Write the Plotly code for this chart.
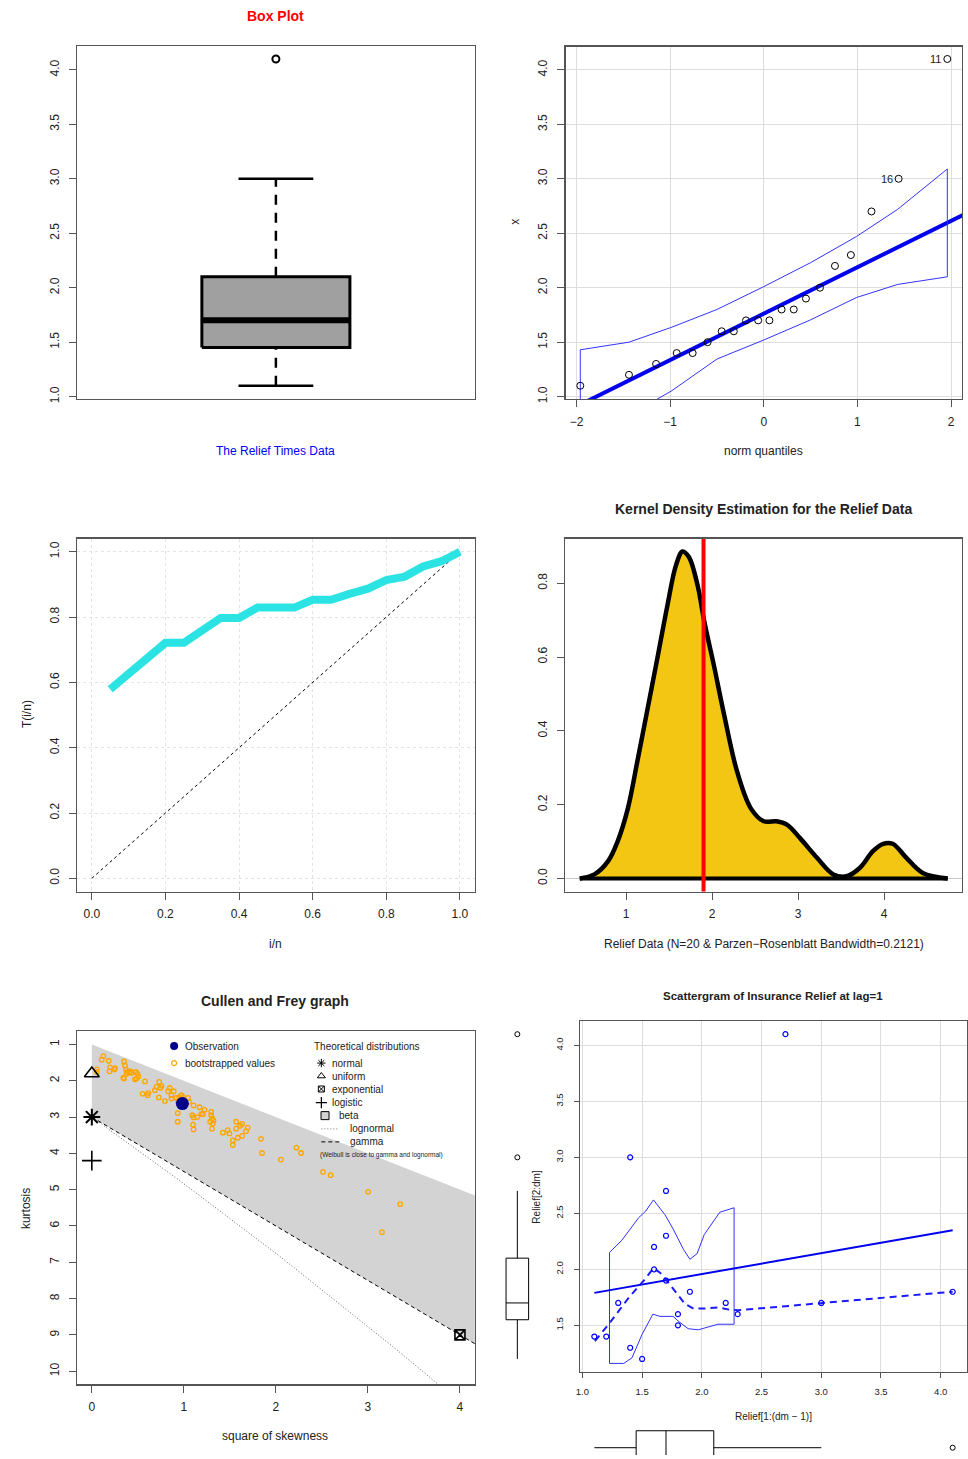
import plotly.graph_objects as go

W, H = 968, 1459
FONT = "Liberation Sans, Arial, sans-serif"
LINE = "#555555"
TXT = "#222222"

# ---------------- data ----------------
relief = [1.1, 1.4, 1.3, 1.7, 1.9, 1.8, 1.6, 2.2, 1.7, 2.7, 4.1, 1.8, 1.5, 1.2, 1.4, 3.0, 1.7, 2.3, 1.6, 2.0]

# box plot: lower whisker, lower hinge, median, upper hinge, upper whisker
box_stats = [1.1, 1.45, 1.7, 2.1, 3.0]
box_outliers = [4.1]

# normal QQ plot
qq_theo = [-1.96, -1.44, -1.15, -0.93, -0.76, -0.60, -0.45, -0.32, -0.19, -0.06,
           0.06, 0.19, 0.32, 0.45, 0.60, 0.76, 0.93, 1.15, 1.44, 1.96]
qq_sample = [1.1, 1.2, 1.3, 1.4, 1.4, 1.5, 1.6, 1.6, 1.7, 1.7,
             1.7, 1.8, 1.8, 1.9, 2.0, 2.2, 2.3, 2.7, 3.0, 4.1]
qq_label_text = ["11", "16"]
qq_label_x = [1.96, 1.44]
qq_label_y = [4.1, 3.0]
qq_intercept = 1.762
qq_slope = 0.426
qq_env_x = [-1.96, -1.44, -0.99, -0.50, 0.0, 0.50, 0.99, 1.43, 1.96]
qq_env_upper = [1.43, 1.50, 1.635, 1.80, 2.01, 2.23, 2.47, 2.72, 3.09]
qq_env_lower = [0.55, 0.83, 1.05, 1.345, 1.52, 1.705, 1.91, 2.03, 2.10]

# TTT plot
ttt_x = [0.05, 0.10, 0.15, 0.20, 0.25, 0.30, 0.35, 0.40, 0.45, 0.50,
         0.55, 0.60, 0.65, 0.70, 0.75, 0.80, 0.85, 0.90, 0.95, 1.00]
ttt_y = [0.579, 0.629, 0.676, 0.721, 0.721, 0.761, 0.797, 0.797, 0.829, 0.829,
         0.829, 0.853, 0.853, 0.871, 0.887, 0.913, 0.924, 0.955, 0.971, 1.000]
ttt_ref = [0.0, 1.0]

# kernel density
kde_x = [0.46, 0.63, 0.79, 0.90, 1.02, 1.13, 1.25, 1.37, 1.48, 1.58, 1.655, 1.73, 1.83,
         1.91, 2.02, 2.14, 2.29, 2.45, 2.60, 2.75, 2.87, 3.02, 3.22, 3.41, 3.565, 3.72,
         3.87, 3.99, 4.10, 4.26, 4.45, 4.74]
kde_y = [0.0, 0.011, 0.047, 0.10, 0.19, 0.317, 0.461, 0.605, 0.74, 0.849, 0.886, 0.871, 0.795,
         0.695, 0.578, 0.443, 0.29, 0.19, 0.155, 0.155, 0.146, 0.11, 0.056, 0.011, 0.006, 0.029,
         0.074, 0.094, 0.094, 0.056, 0.015, 0.0]
kde_mean = 1.9

# Cullen and Frey graph
obs_skew2 = [0.984]
obs_kurt = [2.63]
boot_skew2 = [0.054, 0.054, 0.108, 0.126, 0.184, 0.198, 0.191, 0.245, 0.252, 0.35, 0.36, 0.371,
              0.386, 0.407, 0.378, 0.432, 0.422, 0.342, 0.35, 0.479, 0.497, 0.505, 0.486, 0.468,
              0.577, 0.551, 0.605, 0.613, 0.685, 0.703, 0.732, 0.757, 0.746, 0.728, 0.793, 0.829,
              0.847, 0.865, 0.865, 0.89, 0.919, 0.937, 0.948, 0.973, 0.99, 0.933, 0.933, 1.009,
              1.045, 1.056, 1.106, 1.092, 1.106, 1.146, 1.171, 1.189, 1.207, 1.225, 1.099, 1.106,
              1.297, 1.297, 1.308, 1.286, 1.315, 1.323, 1.305, 1.423, 1.477, 1.495, 1.532, 1.532,
              1.568, 1.568, 1.586, 1.611, 1.632, 1.632, 1.676, 1.694, 1.838, 1.849, 2.054, 2.223,
              2.274, 2.512, 2.595, 3.002, 3.153, 3.351]
boot_kurt = [1.687, 1.76, 1.42, 1.32, 1.45, 1.63, 1.74, 1.69, 1.65, 1.47, 1.58, 1.69,
             1.76, 1.78, 1.81, 1.78, 1.74, 1.92, 1.94, 1.76, 1.81, 1.88, 1.94, 1.96,
             2.02, 2.36, 2.40, 2.34, 2.26, 2.17, 2.03, 2.14, 2.20, 2.46, 2.56, 2.29,
             2.20, 2.40, 2.49, 2.29, 2.47, 2.57, 2.45, 2.40, 2.45, 2.89, 3.13, 2.54,
             2.47, 2.58, 2.68, 2.95, 3.01, 3.00, 2.73, 2.92, 2.92, 2.80, 3.21, 3.34,
             2.86, 2.95, 3.04, 3.13, 3.18, 3.09, 3.32, 3.43, 3.36, 3.45, 3.64, 3.77,
             3.13, 3.32, 3.57, 3.24, 3.19, 3.52, 3.39, 3.29, 3.60, 3.99, 4.17, 3.84,
             3.99, 4.51, 4.60, 5.06, 6.17, 5.40]
cf_lim_x = [0.0, 4.3]
cf_beta_upper = [1.0, 5.3]
cf_gamma = [3.0, 9.45]
cf_lnorm_x = [0.0, 0.96, 2.05, 3.27, 3.66, 3.85]
cf_lnorm_y = [3.0, 4.76, 6.85, 9.32, 10.14, 10.55]
dist_names = ["normal", "uniform", "exponential", "logistic"]
dist_skew2 = [0.0, 0.0, 4.0, 0.0]
dist_kurt = [3.0, 1.8, 9.0, 4.2]

# lag-1 scattergram
lag_x = relief[:-1]
lag_y = relief[1:]
reg_x = [1.1, 4.1]
reg_y = [1.79, 2.35]
loess_x = [1.105, 1.22, 1.39, 1.51, 1.595, 1.65, 1.71, 1.79, 1.86, 1.93, 2.02, 2.135, 2.23, 2.31, 2.69, 2.99, 4.1]
loess_y = [1.36, 1.51, 1.75, 1.895, 2.01, 1.97, 1.895, 1.78, 1.69, 1.65, 1.65, 1.66, 1.64, 1.635, 1.67, 1.70, 1.80]
band_ux = [1.227, 1.33, 1.415, 1.47, 1.53, 1.595, 1.69, 1.76, 1.845, 1.90, 1.96, 2.02, 2.15, 2.27]
band_upper = [2.15, 2.26, 2.38, 2.46, 2.52, 2.62, 2.49, 2.36, 2.18, 2.09, 2.14, 2.31, 2.51, 2.55]
band_lx = [1.227, 1.346, 1.415, 1.50, 1.59, 1.65, 1.76, 1.80, 1.885, 1.97, 2.135, 2.27]
band_lower = [1.16, 1.16, 1.21, 1.42, 1.60, 1.58, 1.58, 1.54, 1.47, 1.46, 1.51, 1.51]

# ---------------- helpers ----------------
def xdom(l, r):
    return [l / W, min(r / W, 1.0)]


def ydom(t, b):
    return [max(1 - b / H, 0.0), 1 - t / H]


def axis(domain, rng, anchor, tickvals=None, ticktext=None, size=12, grid=None,
         griddash="solid", y=False, standoff=None):
    d = dict(domain=domain, range=rng, anchor=anchor, showline=True, mirror=True,
             linecolor=LINE, linewidth=1.3, ticks="outside", ticklen=7, tickwidth=1,
             tickcolor=LINE, zeroline=False, fixedrange=True,
             tickfont=dict(family=FONT, size=size, color=TXT),
             showgrid=grid is not None, gridcolor=grid or "#ffffff", griddash=griddash,
             gridwidth=1)
    if tickvals is not None:
        d.update(tickmode="array", tickvals=tickvals)
        if ticktext is not None:
            d["ticktext"] = ticktext
    else:
        d.update(showticklabels=False, ticks="")
    if y:
        d["tickangle"] = -90
    d["ticklabelstandoff"] = standoff if standoff is not None else (5 if y else 4)
    return d


def hidden(domain, rng, anchor):
    return dict(domain=domain, range=rng, anchor=anchor, visible=False, fixedrange=True)


annotations = []


def txt(px, py, s, size=12, color=TXT, bold=False, angle=0, xanchor="center"):
    annotations.append(dict(
        x=px / W, y=1 - py / H, xref="paper", yref="paper", text=("<b>%s</b>" % s) if bold else s,
        showarrow=False, textangle=angle, xanchor=xanchor, yanchor="middle",
        font=dict(family=FONT, size=size, color=color)))


fig = go.Figure()


def add(tr, n):
    tr.update(xaxis="x%d" % n if n > 1 else "x", yaxis="y%d" % n if n > 1 else "y",
              showlegend=False, hoverinfo="skip")
    fig.add_trace(tr)


# ---------------- panel 1: box plot ----------------
lo, q1, med, q3, hi = box_stats
bpos, bhw, chw = 1.0, 0.186, 0.094
add(go.Scatter(x=[bpos - bhw, bpos + bhw, bpos + bhw, bpos - bhw, bpos - bhw],
               y=[q1, q1, q3, q3, q1], mode="lines", fill="toself", fillcolor="#a0a0a0",
               line=dict(color="black", width=3)), 1)
add(go.Scatter(x=[bpos - bhw, bpos + bhw], y=[med, med], mode="lines",
               line=dict(color="black", width=6)), 1)
for a, b in ((q3, hi), (lo, q1)):
    add(go.Scatter(x=[bpos, bpos], y=[a, b], mode="lines",
                   line=dict(color="black", width=2.5, dash="10px,8px")), 1)
for v in (lo, hi):
    add(go.Scatter(x=[bpos - chw, bpos + chw], y=[v, v], mode="lines",
                   line=dict(color="black", width=2.5)), 1)
add(go.Scatter(x=[bpos] * len(box_outliers), y=box_outliers, mode="markers",
               marker=dict(symbol="circle-open", size=7, color="black", line=dict(width=2))), 1)

# ---------------- panel 2: QQ plot ----------------
add(go.Scatter(x=[-2.3, 2.3], y=[qq_intercept - 2.3 * qq_slope, qq_intercept + 2.3 * qq_slope],
               mode="lines", line=dict(color="#0000ee", width=4)), 2)
env_px = qq_env_x + qq_env_x[::-1] + [qq_env_x[0]]
env_py = qq_env_upper + qq_env_lower[::-1] + [qq_env_upper[0]]
add(go.Scatter(x=env_px, y=env_py, mode="lines", line=dict(color="#3333ff", width=1)), 2)
add(go.Scatter(x=qq_theo, y=qq_sample, mode="markers",
               marker=dict(symbol="circle-open", size=7, color="black", line=dict(width=1))), 2)

# ---------------- panel 3: TTT ----------------
add(go.Scatter(x=ttt_ref, y=ttt_ref, mode="lines", line=dict(color="black", width=1, dash="dot")), 3)
add(go.Scatter(x=ttt_x, y=ttt_y, mode="lines", line=dict(color="#2ce3e3", width=8)), 3)

# ---------------- panel 4: KDE ----------------
add(go.Scatter(x=[0.0, 5.2], y=[0, 0], mode="lines", line=dict(color="#c8c8c8", width=1)), 4)
add(go.Scatter(x=kde_x, y=kde_y, mode="lines", fill="tozeroy", fillcolor="#f3c614",
               line=dict(color="black", width=4.5, shape="spline", smoothing=1.0)), 4)
add(go.Scatter(x=[kde_x[0], kde_x[-1]], y=[0, 0], mode="lines",
               line=dict(color="black", width=4)), 4)
add(go.Scatter(x=[kde_mean, kde_mean], y=[-0.1, 1.0], mode="lines",
               line=dict(color="#ff0000", width=4)), 4)

# ---------------- panel 5: Cullen and Frey ----------------
add(go.Scatter(x=cf_lim_x + cf_lim_x[::-1], y=cf_beta_upper + cf_gamma[::-1], mode="lines",
               fill="toself", fillcolor="#d3d3d3", line=dict(width=0, color="#d3d3d3")), 5)
add(go.Scatter(x=cf_lnorm_x, y=cf_lnorm_y, mode="lines",
               line=dict(color="#666666", width=1, dash="1px,2px")), 5)
add(go.Scatter(x=cf_lim_x, y=cf_gamma, mode="lines",
               line=dict(color="black", width=1, dash="4px,3px")), 5)
add(go.Scatter(x=boot_skew2, y=boot_kurt, mode="markers",
               marker=dict(symbol="circle-open", size=4.5, color="#ffa500", line=dict(width=1.3))), 5)
add(go.Scatter(x=obs_skew2, y=obs_kurt, mode="markers",
               marker=dict(symbol="circle", size=13, color="#00008b")), 5)
dist_sym = {"normal": ("asterisk-open", 14, 2), "uniform": ("triangle-up-open", 13, 1.6),
            "exponential": ("square-x-open", 10, 1.6), "logistic": ("cross-thin-open", 14, 1.6)}
for nme, sx, ky in zip(dist_names, dist_skew2, dist_kurt):
    s, sz, lw = dist_sym[nme]
    add(go.Scatter(x=[sx], y=[ky], mode="markers",
                   marker=dict(symbol=s, size=sz, color="black", line=dict(width=lw, color="black"))), 5)

# ---------------- panel 6: lag scattergram ----------------
add(go.Scatter(x=band_ux + band_lx[::-1] + [band_ux[0]],
               y=band_upper + band_lower[::-1] + [band_upper[0]], mode="lines",
               line=dict(color="#3030ff", width=1)), 6)
add(go.Scatter(x=reg_x, y=reg_y, mode="lines", line=dict(color="#0000ee", width=2)), 6)
add(go.Scatter(x=loess_x, y=loess_y, mode="lines",
               line=dict(color="#1a1aff", width=2, dash="7px,5px")), 6)
add(go.Scatter(x=lag_x, y=lag_y, mode="markers",
               marker=dict(symbol="circle-open", size=5, color="#0000ff", line=dict(width=1.2))), 6)

# marginal boxplots
add(go.Box(y=lag_y, x0=0.5, width=0.54, boxpoints="outliers", quartilemethod="inclusive",
           whiskerwidth=0, fillcolor="white", line=dict(color="black", width=1),
           marker=dict(symbol="circle-open", size=5, color="black"), pointpos=0, jitter=0), 7)
add(go.Box(x=relief, y0=0.215, width=1.0, orientation="h", boxpoints="outliers",
           quartilemethod="inclusive", whiskerwidth=0, fillcolor="white",
           line=dict(color="black", width=1),
           marker=dict(symbol="circle-open", size=5, color="black"), pointpos=0, jitter=0), 8)

# ---------------- Cullen-Frey legend (pixel overlay axis) ----------------
leg = [
    (171, 1049, "circle", 8, "#00008b", 0),
    (171, 1066, "circle-open", 5, "#ffa500", 1.2),
    (319, 1066, "asterisk-open", 7, "black", 1),
    (319, 1079, "triangle-up-open", 7, "black", 1),
    (319, 1092, "square-x-open", 6, "black", 1),
    (319, 1105.7, "cross-thin-open", 8, "black", 1.2),
]
for lx, ly, s, sz, c, lw in leg:
    add(go.Scatter(x=[lx], y=[ly], mode="markers",
                   marker=dict(symbol=s, size=sz, color=c, line=dict(width=lw, color=c))), 9)
add(go.Scatter(x=[322.7], y=[1118.7], mode="markers",
               marker=dict(symbol="square", size=8, color="#d3d3d3", line=dict(width=1, color="black"))), 9)
add(go.Scatter(x=[319, 337], y=[1132, 1132], mode="lines",
               line=dict(color="#777777", width=1, dash="1px,2px")), 9)
add(go.Scatter(x=[319, 337], y=[1145, 1145], mode="lines",
               line=dict(color="black", width=1, dash="4px,3px")), 9)

# ---------------- axes ----------------
t05 = [1.0, 1.5, 2.0, 2.5, 3.0, 3.5, 4.0]
t05s = ["1.0", "1.5", "2.0", "2.5", "3.0", "3.5", "4.0"]
t02 = [0, 0.2, 0.4, 0.6, 0.8, 1.0]
t02s = ["0.0", "0.2", "0.4", "0.6", "0.8", "1.0"]
GRID = "#dedede"

layout = dict(
    width=W, height=H, margin=dict(l=0, r=0, t=0, b=0), autosize=False,
    paper_bgcolor="white", plot_bgcolor="rgba(0,0,0,0)", showlegend=False,
    xaxis=axis(xdom(73.3, 473.3), [0.5, 1.5], "y"),
    yaxis=axis(ydom(46, 400), [0.979, 4.22], "x", t05, t05s, y=True),
    xaxis2=axis(xdom(564.5, 963), [-2.117, 2.117], "y2", [-2, -1, 0, 1, 2], grid=GRID),
    yaxis2=axis(ydom(46.7, 400), [0.979, 4.214], "x2", t05, t05s, y=True, grid=GRID),
    xaxis3=axis(xdom(73.3, 473.3), [-0.0405, 1.0405], "y3", t02, t02s, grid="#e4e4e4", griddash="dot"),
    yaxis3=axis(ydom(540, 894), [-0.0405, 1.0405], "x3", t02, t02s, y=True, grid="#e4e4e4", griddash="dot"),
    xaxis4=axis(xdom(564.3, 963), [0.293, 4.907], "y4", [1, 2, 3, 4]),
    yaxis4=axis(ydom(540, 894), [-0.0354, 0.921], "x4", [0, 0.2, 0.4, 0.6, 0.8],
                ["0.0", "0.2", "0.4", "0.6", "0.8"], y=True),
    xaxis5=axis(xdom(73.3, 473.3), [-0.162, 4.162], "y5", [0, 1, 2, 3, 4]),
    yaxis5=axis(ydom(1034.3, 1388.3), [10.365, 0.643], "x5", list(range(1, 11)), y=True),
    xaxis6=axis(xdom(579, 968), [0.98, 4.22], "y6", t05, t05s, size=9.5, grid=GRID, standoff=5),
    yaxis6=axis(ydom(1024, 1375.7), [1.084, 4.216], "x6", t05[1:], t05s[1:], size=9.5, y=True,
                grid=GRID, standoff=7),
    xaxis7=hidden(xdom(495, 537), [0, 1], "y7"),
    yaxis7=hidden(ydom(1024, 1375.7), [1.084, 4.216], "x7"),
    xaxis8=hidden(xdom(579, 968), [0.98, 4.22], "y8"),
    yaxis8=hidden(ydom(1425, 1459), [0, 1], "x8"),
    xaxis9=hidden([0, 1], [0, W], "y9"),
    yaxis9=hidden([0, 1], [H, 0], "x9"),
)
for k in ("xaxis6", "yaxis6"):
    layout[k]["ticklen"] = 5

# QQ point labels (data-anchored)
for lab, lx, ly in zip(qq_label_text, qq_label_x, qq_label_y):
    annotations.append(dict(x=lx, y=ly, xref="x2", yref="y2", text=lab, showarrow=False,
                            xanchor="right", yanchor="middle", xshift=-4,
                            font=dict(family=FONT, size=11, color=TXT)))

# ---------------- text ----------------
txt(273, 16, "Box Plot", size=14, color="#ff0000", bold=True)
txt(273, 452, "The Relief Times Data", size=12, color="#0000ff")
txt(763.5, 452, "norm quantiles", size=12)
txt(514, 222, "x", size=12, angle=-90)
txt(273, 946.5, "i/n", size=12)
txt(22.7, 716.5, "T(i/n)", size=12, angle=-90)
txt(763.5, 510.5, "Kernel Density Estimation for the Relief Data", size=14, bold=True)
txt(763.5, 946.5, "Relief Data (N=20 &amp; Parzen\u2212Rosenblatt Bandwidth=0.2121)", size=12)
txt(272.7, 1004, "Cullen and Frey graph", size=14, bold=True)
txt(272.7, 1440, "square of skewness", size=12)
txt(22, 1211.5, "kurtosis", size=12, angle=-90)
txt(180, 1049, "Observation", size=10, xanchor="left")
txt(180, 1066, "bootstrapped values", size=10, xanchor="left")
txt(310, 1049, "Theoretical distributions", size=10, xanchor="left")
for nme, yy in zip(dist_names, [1066, 1079, 1092, 1105.7]):
    txt(328, yy, nme, size=10, xanchor="left")
txt(335, 1118.7, "beta", size=10, xanchor="left")
txt(345.7, 1132, "lognormal", size=10, xanchor="left")
txt(345.7, 1145, "gamma", size=10, xanchor="left")
txt(316, 1158.3, "(Weibull is close to gamma and lognormal)", size=6.5, xanchor="left")
txt(773.3, 999, "Scattergram of Insurance Relief at lag=1", size=11.5, bold=True)
txt(773.3, 1420, "Relief[1:(dm \u2212 1)]", size=10)
txt(535.7, 1200, "Relief[2:dm]", size=10, angle=-90)

layout["annotations"] = annotations
fig.update_layout(**layout)
fig.write_html("out.html", config={"displayModeBar": False, "staticPlot": True})
